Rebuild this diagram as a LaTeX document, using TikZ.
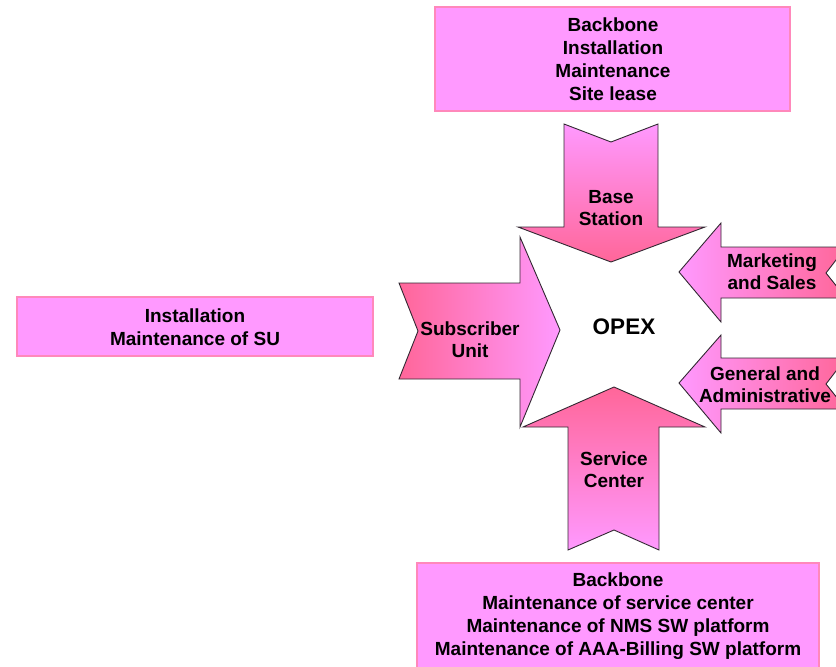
\documentclass[tikz,border=0pt]{standalone}
\usepackage{fontspec}
\setmainfont{Liberation Sans}
\definecolor{lpink}{RGB}{255,153,255}
\definecolor{dpink}{RGB}{255,102,153}
\definecolor{bpink}{RGB}{255,136,187}
\definecolor{edge}{RGB}{50,40,50}
\begin{document}
\begin{tikzpicture}[x=1pt,y=-1pt,
  box/.style={fill=lpink,draw=bpink,line width=1.2pt},
  arr/.style={draw=edge,line width=0.9pt,line join=miter},
  lbl/.style={font=\bfseries\fontsize{19}{23}\selectfont,align=center,text=black,inner sep=0pt},
  albl/.style={font=\bfseries\fontsize{19}{22}\selectfont,align=center,text=black,inner sep=0pt}]
\useasboundingbox (0,0) rectangle (836,667);
% boxes
\draw[box] (435,7) rectangle (790,111);
\node[lbl] (topbox) at (613,59) {Backbone\\Installation\\Maintenance\\Site lease};
\draw[box] (17,297) rectangle (373,356);
\node[lbl] (leftbox) at (195,327) {Installation\\Maintenance of SU};
\draw[box] (417,563) rectangle (819,672);
\node[lbl] (botbox) at (618,616) {Backbone\\Maintenance of service center\\Maintenance of NMS SW platform\\Maintenance of AAA-Billing SW platform};
% Base Station arrow (down)
\path[arr,top color=lpink,bottom color=dpink]
  (564,124) -- (611,142) -- (658,124) -- (658,227) -- (705,227) -- (611,262) -- (518,227) -- (564,227) -- cycle;
\node[albl] (bs) at (611,208) {Base\\Station};
% Subscriber Unit arrow (right)
\path[arr,left color=dpink,right color=lpink]
  (399,283) -- (520,283) -- (520,237) -- (560,330) -- (520,427) -- (520,379) -- (399,379) -- (418,331) -- cycle;
\node[albl] (su) at (470,340) {Subscriber\\Unit};
% Marketing and Sales arrow (left)
\path[arr,left color=lpink,right color=dpink]
  (679,272) -- (721,223) -- (721,247) -- (846,247) -- (826,273) -- (846,298) -- (721,298) -- (721,322) -- cycle;
\node[albl] (ms) at (772,272) {Marketing\\and Sales};
% General and Administrative arrow (left)
\path[arr,left color=lpink,right color=dpink]
  (679,383) -- (721,335) -- (721,358) -- (846,358) -- (826,384) -- (846,409) -- (721,409) -- (721,433) -- cycle;
\node[albl] (ga) at (765,385) {General and\\Administrative};
% Service Center arrow (up)
\path[arr,top color=dpink,bottom color=lpink]
  (614,387) -- (705,427) -- (659,427) -- (659,550) -- (614,530) -- (568,550) -- (568,427) -- (523,427) -- cycle;
\node[albl] (sc) at (614,470) {Service\\Center};
% centre
\node[font=\bfseries\fontsize{22.5}{26}\selectfont,inner sep=0pt] (opex) at (624,327) {OPEX};
\end{tikzpicture}
\end{document}
